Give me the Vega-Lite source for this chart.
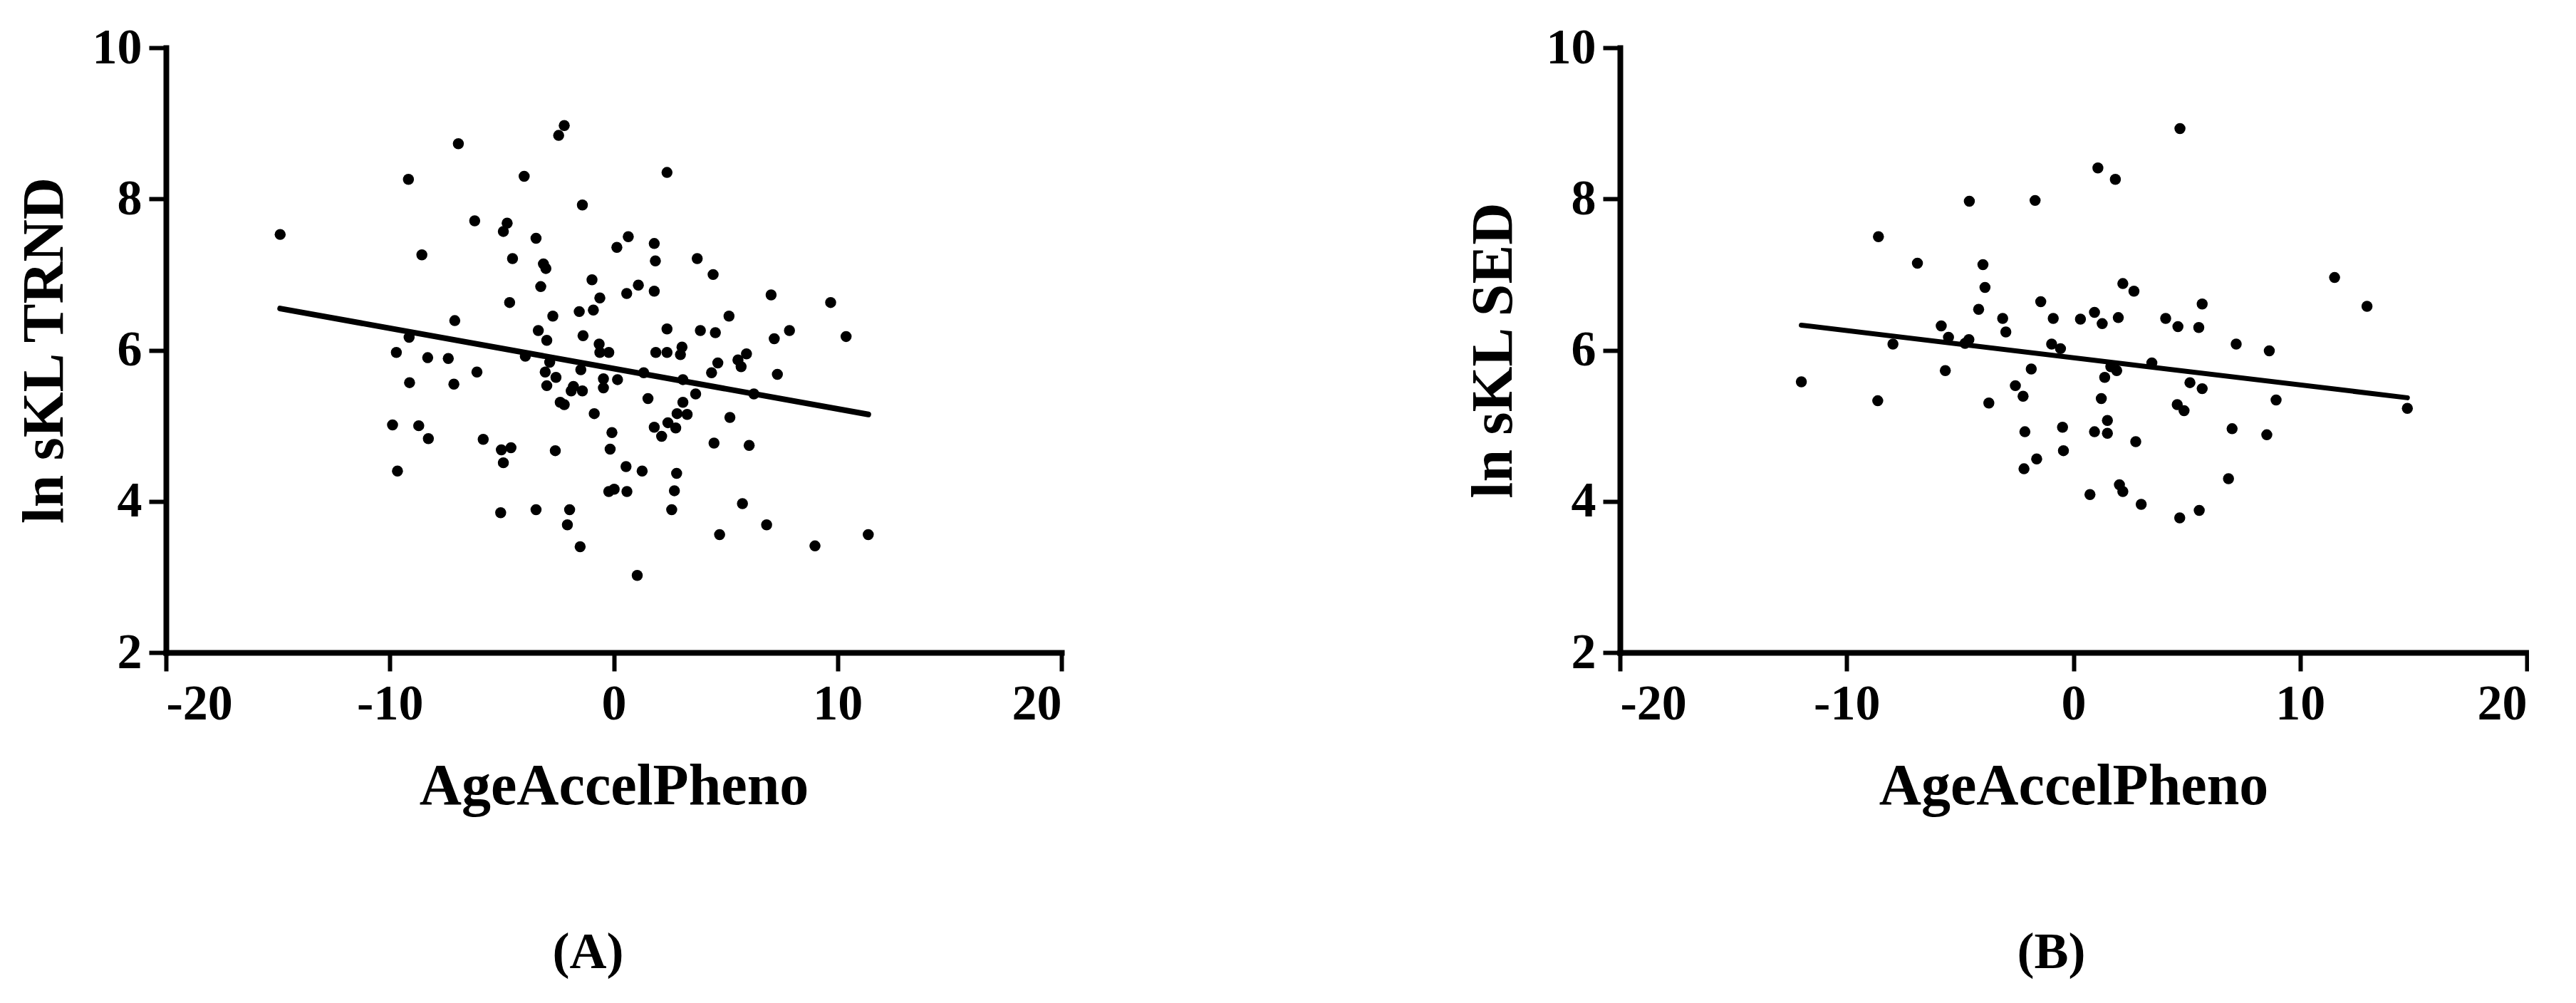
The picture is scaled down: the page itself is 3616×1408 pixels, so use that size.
{
  "$schema": "https://vega.github.io/schema/vega-lite/v6.json",
  "background": "white",
  "padding": {"left": 21, "top": 32, "right": 0, "bottom": 24},
  "bounds": "flush",
  "spacing": 784,
  "config": {
    "view": {"stroke": null},
    "axis": {
      "grid": false,
      "domainColor": "black",
      "domainWidth": 8,
      "domainCap": "square",
      "tickColor": "black",
      "tickWidth": 6,
      "labelFont": "Liberation Serif",
      "labelFontWeight": "bold",
      "labelFontSize": 70,
      "labelColor": "black",
      "titleFont": "Liberation Serif",
      "titleFontWeight": "bold",
      "titleFontSize": 82,
      "titleColor": "black",
      "labelExpr": "toString(datum.value)"
    },
    "axisX": {"tickSize": 26, "labelPadding": 12, "titlePadding": 40},
    "axisY": {"tickSize": 24, "labelPadding": 10, "titlePadding": 25}
  },
  "datasets": {
    "A": [
      {"x": -14.9, "y": 7.53}, {"x": -6.94, "y": 8.73}, {"x": -2.21, "y": 8.97}, {"x": -2.46, "y": 8.84},
      {"x": -9.17, "y": 8.26}, {"x": -4.0, "y": 8.3}, {"x": -1.4, "y": 7.92}, {"x": -6.21, "y": 7.71},
      {"x": -4.76, "y": 7.68}, {"x": -4.93, "y": 7.57}, {"x": -3.47, "y": 7.48}, {"x": 0.65, "y": 7.5},
      {"x": 0.14, "y": 7.36}, {"x": -8.57, "y": 7.26}, {"x": -4.52, "y": 7.21}, {"x": -3.14, "y": 7.14},
      {"x": -3.03, "y": 7.08}, {"x": -0.97, "y": 6.93}, {"x": -3.26, "y": 6.84}, {"x": 1.1, "y": 6.86},
      {"x": 0.58, "y": 6.75}, {"x": -0.62, "y": 6.69}, {"x": -4.65, "y": 6.63}, {"x": -1.54, "y": 6.51},
      {"x": -0.91, "y": 6.53}, {"x": -2.72, "y": 6.45}, {"x": -7.1, "y": 6.39}, {"x": -3.37, "y": 6.26},
      {"x": -2.99, "y": 6.13}, {"x": -1.37, "y": 6.19}, {"x": -0.65, "y": 6.08}, {"x": -0.62, "y": 5.97},
      {"x": -0.22, "y": 5.97}, {"x": -9.14, "y": 6.17}, {"x": -9.71, "y": 5.97}, {"x": -8.31, "y": 5.9},
      {"x": -7.39, "y": 5.89}, {"x": -3.95, "y": 5.92}, {"x": -6.11, "y": 5.71}, {"x": -9.12, "y": 5.57},
      {"x": -7.14, "y": 5.55}, {"x": -2.86, "y": 5.84}, {"x": -1.47, "y": 5.74}, {"x": -3.06, "y": 5.71},
      {"x": -2.58, "y": 5.64}, {"x": -0.46, "y": 5.62}, {"x": 0.17, "y": 5.61}, {"x": -2.99, "y": 5.53},
      {"x": -0.46, "y": 5.5}, {"x": -1.9, "y": 5.46}, {"x": -1.8, "y": 5.52}, {"x": -1.4, "y": 5.46},
      {"x": -2.39, "y": 5.31}, {"x": -2.21, "y": 5.28}, {"x": -0.87, "y": 5.16}, {"x": 1.34, "y": 5.7},
      {"x": 1.53, "y": 5.36}, {"x": -9.88, "y": 5.01}, {"x": -8.71, "y": 5.0}, {"x": -8.28, "y": 4.83},
      {"x": -5.83, "y": 4.82}, {"x": -5.02, "y": 4.68}, {"x": -4.59, "y": 4.71}, {"x": -4.93, "y": 4.51},
      {"x": -2.61, "y": 4.67}, {"x": -0.08, "y": 4.91}, {"x": -0.16, "y": 4.69}, {"x": 0.55, "y": 4.46},
      {"x": 1.27, "y": 4.4}, {"x": -0.22, "y": 4.13}, {"x": 0.02, "y": 4.16}, {"x": 0.59, "y": 4.13},
      {"x": -9.66, "y": 4.4}, {"x": -5.05, "y": 3.85}, {"x": -3.47, "y": 3.89}, {"x": -1.97, "y": 3.89},
      {"x": -2.07, "y": 3.69}, {"x": -1.5, "y": 3.4}, {"x": 1.05, "y": 3.02}, {"x": 2.38, "y": 8.35},
      {"x": 1.81, "y": 7.41}, {"x": 1.86, "y": 7.18}, {"x": 3.73, "y": 7.21}, {"x": 4.44, "y": 7.0},
      {"x": 1.81, "y": 6.78}, {"x": 7.03, "y": 6.73}, {"x": 9.69, "y": 6.63}, {"x": 5.15, "y": 6.45},
      {"x": 2.38, "y": 6.28}, {"x": 3.87, "y": 6.26}, {"x": 4.54, "y": 6.23}, {"x": 7.17, "y": 6.15},
      {"x": 7.85, "y": 6.26}, {"x": 10.38, "y": 6.18}, {"x": 1.88, "y": 5.97}, {"x": 2.38, "y": 5.97},
      {"x": 3.05, "y": 6.04}, {"x": 2.98, "y": 5.94}, {"x": 4.65, "y": 5.83}, {"x": 4.37, "y": 5.7},
      {"x": 5.55, "y": 5.87}, {"x": 5.93, "y": 5.95}, {"x": 5.69, "y": 5.78}, {"x": 7.31, "y": 5.68},
      {"x": 3.09, "y": 5.61}, {"x": 6.26, "y": 5.42}, {"x": 3.66, "y": 5.42}, {"x": 3.09, "y": 5.31},
      {"x": 2.83, "y": 5.16}, {"x": 3.28, "y": 5.15}, {"x": 5.19, "y": 5.11}, {"x": 1.81, "y": 4.98},
      {"x": 2.42, "y": 5.04}, {"x": 2.77, "y": 4.97}, {"x": 2.14, "y": 4.86}, {"x": 4.48, "y": 4.77},
      {"x": 6.05, "y": 4.74}, {"x": 2.81, "y": 4.37}, {"x": 2.71, "y": 4.14}, {"x": 2.59, "y": 3.89},
      {"x": 5.75, "y": 3.97}, {"x": 6.83, "y": 3.69}, {"x": 4.73, "y": 3.56}, {"x": 8.99, "y": 3.41},
      {"x": 11.37, "y": 3.56}
    ],
    "fitA": [{"x": -14.9, "y": 6.55}, {"x": 11.37, "y": 5.15}],
    "B": [
      {"x": -4.59, "y": 7.97}, {"x": -1.69, "y": 7.98}, {"x": -8.6, "y": 7.5}, {"x": -6.88, "y": 7.15},
      {"x": -3.99, "y": 7.13}, {"x": -3.9, "y": 6.83}, {"x": -1.44, "y": 6.64}, {"x": -4.18, "y": 6.54},
      {"x": -3.12, "y": 6.42}, {"x": -0.89, "y": 6.42}, {"x": -5.83, "y": 6.32}, {"x": -2.98, "y": 6.24},
      {"x": -7.96, "y": 6.08}, {"x": -5.51, "y": 6.17}, {"x": -4.78, "y": 6.09}, {"x": -4.61, "y": 6.14},
      {"x": -0.96, "y": 6.08}, {"x": -0.57, "y": 6.02}, {"x": -12.0, "y": 5.58}, {"x": -8.63, "y": 5.33},
      {"x": -5.65, "y": 5.73}, {"x": -1.86, "y": 5.75}, {"x": -2.56, "y": 5.53}, {"x": -2.22, "y": 5.39},
      {"x": -3.73, "y": 5.3}, {"x": -2.14, "y": 4.92}, {"x": -0.48, "y": 4.98}, {"x": -1.62, "y": 4.56},
      {"x": -2.18, "y": 4.43}, {"x": -0.44, "y": 4.67}, {"x": 4.7, "y": 8.93}, {"x": 1.08, "y": 8.41},
      {"x": 1.85, "y": 8.26}, {"x": 11.52, "y": 6.96}, {"x": 12.95, "y": 6.58}, {"x": 2.18, "y": 6.88},
      {"x": 2.67, "y": 6.78}, {"x": 0.31, "y": 6.41}, {"x": 0.93, "y": 6.5}, {"x": 1.27, "y": 6.35},
      {"x": 1.98, "y": 6.43}, {"x": 4.07, "y": 6.42}, {"x": 4.61, "y": 6.31}, {"x": 5.53, "y": 6.3},
      {"x": 5.68, "y": 6.61}, {"x": 7.18, "y": 6.08}, {"x": 8.64, "y": 5.99}, {"x": 1.65, "y": 5.78},
      {"x": 1.91, "y": 5.73}, {"x": 3.46, "y": 5.83}, {"x": 1.38, "y": 5.64}, {"x": 1.23, "y": 5.36},
      {"x": 5.14, "y": 5.57}, {"x": 5.68, "y": 5.49}, {"x": 8.94, "y": 5.34}, {"x": 14.73, "y": 5.23},
      {"x": 4.58, "y": 5.28}, {"x": 4.88, "y": 5.2}, {"x": 1.5, "y": 5.07}, {"x": 0.93, "y": 4.92},
      {"x": 1.5, "y": 4.9}, {"x": 2.75, "y": 4.79}, {"x": 7.0, "y": 4.96}, {"x": 8.53, "y": 4.88},
      {"x": 6.84, "y": 4.3}, {"x": 2.03, "y": 4.22}, {"x": 2.18, "y": 4.13}, {"x": 0.73, "y": 4.09},
      {"x": 2.99, "y": 3.96}, {"x": 4.69, "y": 3.78}, {"x": 5.55, "y": 3.88}
    ],
    "fitB": [{"x": -12.0, "y": 6.33}, {"x": 14.73, "y": 5.37}]
  },
  "hconcat": [
    {
      "width": 1257,
      "height": 849,
      "title": {"text": "(A)", "orient": "bottom", "anchor": "middle", "frame": "group", "dx": -36, "offset": 158, "baseline": "top", "font": "Liberation Serif", "fontWeight": "bold", "fontSize": 72, "color": "black"},
      "layer": [
        {
          "data": {"name": "A"},
          "mark": {"type": "circle", "size": 240, "color": "black", "opacity": 1},
          "encoding": {
            "x": {"field": "x", "type": "quantitative", "scale": {"domain": [-20, 20], "nice": false}, "axis": {"values": [-20, -10, 0, 10, 20], "title": "AgeAccelPheno"}},
            "y": {"field": "y", "type": "quantitative", "scale": {"domain": [2, 10], "nice": false, "zero": false}, "axis": {"values": [2, 4, 6, 8, 10], "title": "ln sKL TRND"}}
          }
        },
        {
          "data": {"name": "fitA"},
          "mark": {"type": "line", "color": "black", "strokeWidth": 8, "strokeCap": "round"},
          "encoding": {
            "x": {"field": "x", "type": "quantitative"},
            "y": {"field": "y", "type": "quantitative"}
          }
        }
      ]
    },
    {
      "width": 1273,
      "height": 849,
      "title": {"text": "(B)", "orient": "bottom", "anchor": "middle", "frame": "group", "dx": -31, "offset": 158, "baseline": "top", "font": "Liberation Serif", "fontWeight": "bold", "fontSize": 72, "color": "black"},
      "layer": [
        {
          "data": {"name": "B"},
          "mark": {"type": "circle", "size": 240, "color": "black", "opacity": 1},
          "encoding": {
            "x": {"field": "x", "type": "quantitative", "scale": {"domain": [-20, 20], "nice": false}, "axis": {"values": [-20, -10, 0, 10, 20], "title": "AgeAccelPheno"}},
            "y": {"field": "y", "type": "quantitative", "scale": {"domain": [2, 10], "nice": false, "zero": false}, "axis": {"values": [2, 4, 6, 8, 10], "title": "ln sKL SED", "titlePadding": 32}}
          }
        },
        {
          "data": {"name": "fitB"},
          "mark": {"type": "line", "color": "black", "strokeWidth": 7, "strokeCap": "round"},
          "encoding": {
            "x": {"field": "x", "type": "quantitative"},
            "y": {"field": "y", "type": "quantitative"}
          }
        }
      ]
    }
  ]
}
